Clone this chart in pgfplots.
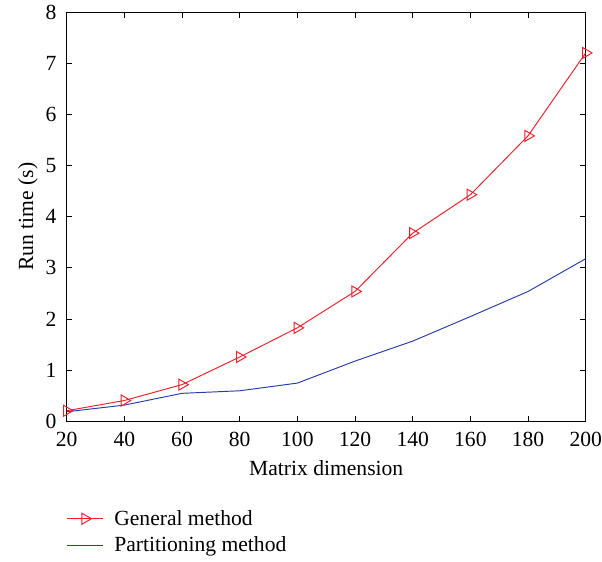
\documentclass[border=0pt]{standalone}
\usepackage{fontspec}
\setmainfont{Liberation Serif}
\usepackage{pgfplots}
\pgfplotsset{compat=1.18}
\definecolor{genred}{RGB}{240,30,40}
\definecolor{partblue}{RGB}{40,60,170}
\newcommand{\chartfont}{\fontsize{13.6}{16}\selectfont}
\begin{document}
\begin{tikzpicture}
\begin{axis}[
  scale only axis,
  width=327pt, height=258pt,
  xmin=20, xmax=200, ymin=0, ymax=8,
  xtick={20,40,...,200}, ytick={0,1,...,8},
  tick align=inside,
  xtick pos=both, ytick pos=both,
  major tick length=3.5pt,
  axis line style={line width=0.6pt},
  tick style={line width=0.6pt, black},
  /pgf/number format/assume math mode=true,
  ticklabel style={font=\chartfont},
  xticklabel style={yshift=-3pt},
  yticklabel style={xshift=-3pt},
  xlabel={\chartfont Matrix dimension},
  ylabel={\chartfont Run time (s)},
  xlabel style={yshift=-2pt},
  ylabel style={yshift=-2pt},
  legend style={at={(0,-0.2)}, xshift=-3pt, anchor=north west, draw=none, fill=none,
    font=\chartfont, row sep=2pt, legend cell align=left,
    /tikz/every odd column/.append style={column sep=5pt}},
  legend image code/.code={
    \draw[#1] (0cm,0cm) -- (0.78cm,0cm);
    \draw[#1, mark repeat=2, mark phase=2] plot coordinates {(0cm,0cm) (0.39cm,0cm) (0.78cm,0cm)};
  },
]
\addplot[genred, line width=0.6pt, mark=triangle, mark size=4pt,
  mark options={rotate=-90, solid, fill=none}] coordinates {
  (20,0.21) (40,0.41) (60,0.72) (80,1.26) (100,1.83)
  (120,2.54) (140,3.68) (160,4.43) (180,5.58) (200,7.2)};
\addplot[partblue, line width=0.6pt] coordinates {
  (20,0.19) (40,0.32) (60,0.55) (80,0.6) (100,0.75)
  (120,1.18) (140,1.57) (160,2.05) (180,2.54) (200,3.18)};
\legend{General method, Partitioning method}
\coordinate (bl) at (rel axis cs:-0.1285,-0.3415);
\coordinate (tr) at (rel axis cs:1.0314,1.0293);
\end{axis}
\pgfresetboundingbox
\useasboundingbox (bl) rectangle (tr);
\end{tikzpicture}
\end{document}
